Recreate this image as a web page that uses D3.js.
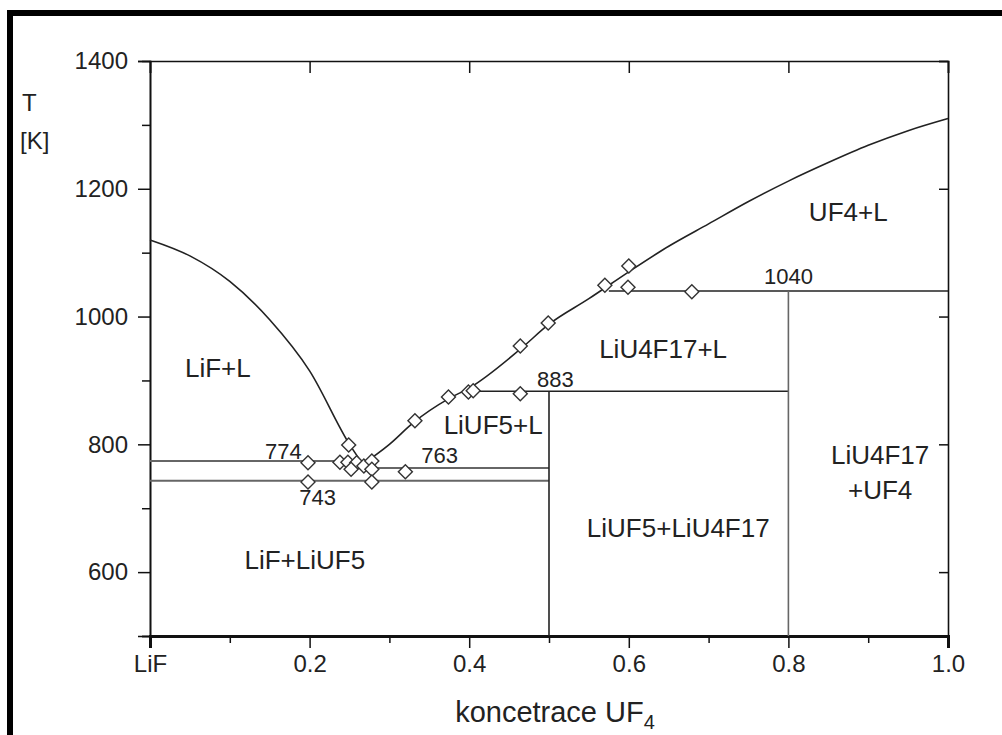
<!DOCTYPE html>
<html>
<head>
<meta charset="utf-8">
<script src="https://cdn.jsdelivr.net/npm/d3@7"></script>
<style>
  body { margin: 0; background: #fff; }
  text { font-family: "Liberation Sans", Arial, sans-serif; fill: #222; }
</style>
</head>
<body>
<script>
// Liquidus curves (x = mole fraction UF4, T in K)
const liqLeftX  = [0, 0.05, 0.1, 0.15, 0.2, 0.25, 0.265]
const liqLeftT  = [1120, 1095, 1055, 995, 915, 800, 772]
const liqRightX = [0.262, 0.3, 0.33, 0.375, 0.4, 0.465, 0.5, 0.55, 0.6, 0.65, 0.7, 0.75, 0.8, 0.85, 0.9, 0.95, 1.0]
const liqRightT = [765, 800, 834, 872, 888, 950, 988, 1028, 1070, 1110, 1145, 1180, 1212, 1241, 1268, 1291, 1310]

// Isotherms and vertical phase boundaries
const isoT  = [774, 763, 743, 883, 1040]
const isoX0 = [0, 0.26, 0, 0.4, 0.575]
const isoX1 = [0.27, 0.5, 0.5, 0.8, 1.0]
const vertX  = [0.5, 0.8]
const vertT0 = [883, 1040]

// Measured points
const ptX = [0.198, 0.198, 0.238, 0.249, 0.248, 0.259, 0.252, 0.268, 0.278, 0.278, 0.278, 0.32, 0.332, 0.374, 0.399, 0.405, 0.464, 0.464, 0.499, 0.57, 0.6, 0.599, 0.679]
const ptT = [771, 741, 772, 799, 772, 771, 761, 766, 774, 761, 741, 757, 837, 874, 882, 884, 954, 879, 990, 1049, 1079, 1046, 1039]

// Region and temperature labels
const labText = ["LiF+L", "LiF+LiUF5", "LiUF5+L", "LiU4F17+L", "LiUF5+LiU4F17", "UF4+L", "LiU4F17", "+UF4"]
const labX    = [0.085, 0.194, 0.43, 0.643, 0.662, 0.875, 0.915, 0.915]
const labT    = [919, 619, 830, 949, 669, 1164, 783, 728]
const numText = ["774", "743", "763", "883", "1040"]
const numX    = [0.167, 0.21, 0.363, 0.508, 0.80]
const numT    = [789, 717, 783, 901, 1063]

const w = 1002
const h = 735
const margin = {left: 150, top: 61, right: 54, bottom: 99}

const svg = d3.select("body").append("svg")
  .attr("width", w)
  .attr("height", h)

// thick black frame (only top and left visible)
svg.append("rect")
  .attr("x", 10).attr("y", 13)
  .attr("width", 1200).attr("height", 1000)
  .attr("fill", "none").attr("stroke", "#000").attr("stroke-width", 6)

const x = d3.scaleLinear().domain([0, 1]).range([margin.left, w - margin.right])
const y = d3.scaleLinear().domain([500, 1400]).range([h - margin.bottom, margin.top])

// axes
const fmtX = d => d === 0 ? "LiF" : d3.format(".1f")(d)
const xMajor = d3.range(0, 1.01, 0.2)
const xMinor = d3.range(0.1, 1, 0.2)
const yMajor = d3.range(600, 1401, 200)
const yMinor = d3.range(500, 1400, 200)

const bottom = svg.append("g").attr("transform", `translate(0, ${y(500)})`)
bottom.call(d3.axisBottom(x).tickValues(xMinor).tickSize(7).tickFormat(""))
bottom.append("g").call(d3.axisBottom(x).tickValues(xMajor).tickSize(12).tickPadding(7).tickFormat(fmtX))

const left = svg.append("g").attr("transform", `translate(${x(0)}, 0)`)
left.call(d3.axisLeft(y).tickValues(yMinor).tickSize(8).tickFormat(""))
left.append("g").call(d3.axisLeft(y).tickValues(yMajor).tickSize(12).tickPadding(10).tickFormat(d3.format("d")))

svg.append("g").attr("transform", `translate(0, ${y(1400)})`)
  .call(d3.axisTop(x).tickValues(xMajor).tickSize(-12).tickFormat(""))
svg.append("g").attr("transform", `translate(${x(1)}, 0)`)
  .call(d3.axisRight(y).tickValues(yMajor).tickSize(-9).tickFormat(""))

svg.selectAll(".domain").attr("stroke", "#111").attr("stroke-width", 1.6)
bottom.selectAll(".domain").attr("stroke-width", 3)
svg.selectAll(".tick line").attr("stroke", "#111").attr("stroke-width", 1.5)
svg.selectAll(".tick text")
  .style("font-family", "'Liberation Sans', Arial, sans-serif")
  .attr("font-size", 24).attr("fill", "#222")

// phase boundaries
const lineGen = d3.line().x(d => x(d[0])).y(d => y(d[1])).curve(d3.curveMonotoneX)
svg.append("path")
  .attr("d", lineGen(liqLeftX.map((v, i) => [v, liqLeftT[i]])))
  .attr("fill", "none").attr("stroke", "#222").attr("stroke-width", 1.6)
svg.append("path")
  .attr("d", lineGen(liqRightX.map((v, i) => [v, liqRightT[i]])))
  .attr("fill", "none").attr("stroke", "#222").attr("stroke-width", 1.6)

svg.selectAll(".iso").data(isoT).enter().append("line")
  .attr("x1", (d, i) => x(isoX0[i]))
  .attr("x2", (d, i) => x(isoX1[i]))
  .attr("y1", d => y(d))
  .attr("y2", d => y(d))
  .attr("stroke", (d, i) => i < 3 ? "#666" : "#222")
  .attr("stroke-width", (d, i) => i < 3 ? 2 : 1.6)

svg.selectAll(".vert").data(vertX).enter().append("line")
  .attr("x1", d => x(d)).attr("x2", d => x(d))
  .attr("y1", (d, i) => y(vertT0[i]))
  .attr("y2", y(500))
  .attr("stroke", (d, i) => i === 0 ? "#222" : "#666")
  .attr("stroke-width", 1.6)

// data points as diamonds
const diamond = d3.symbol().type(d3.symbolSquare).size(98)
svg.selectAll(".pt").data(ptX).enter().append("path")
  .attr("d", diamond)
  .attr("transform", (d, i) => `translate(${x(d)}, ${y(ptT[i])}) rotate(45)`)
  .attr("fill", "#fff").attr("stroke", "#333").attr("stroke-width", 1.4)

// labels
svg.selectAll(".lab").data(labText).enter().append("text")
  .attr("x", (d, i) => x(labX[i]))
  .attr("y", (d, i) => y(labT[i]))
  .attr("text-anchor", "middle").attr("dominant-baseline", "central")
  .attr("font-size", 26)
  .text(d => d)

svg.selectAll(".num").data(numText).enter().append("text")
  .attr("x", (d, i) => x(numX[i]))
  .attr("y", (d, i) => y(numT[i]))
  .attr("text-anchor", "middle").attr("dominant-baseline", "central")
  .attr("font-size", 22)
  .text(d => d)

// axis titles
svg.append("text").attr("x", 22).attr("y", 111).attr("font-size", 24).text("T")
svg.append("text").attr("x", 20).attr("y", 149).attr("font-size", 24).text("[K]")

const title = svg.append("text")
  .attr("x", 555).attr("y", 722)
  .attr("text-anchor", "middle")
  .attr("font-size", 29)
title.append("tspan").text("koncetrace UF")
title.append("tspan").attr("dy", 7).attr("font-size", 20).text("4")
</script>
</body>
</html>
